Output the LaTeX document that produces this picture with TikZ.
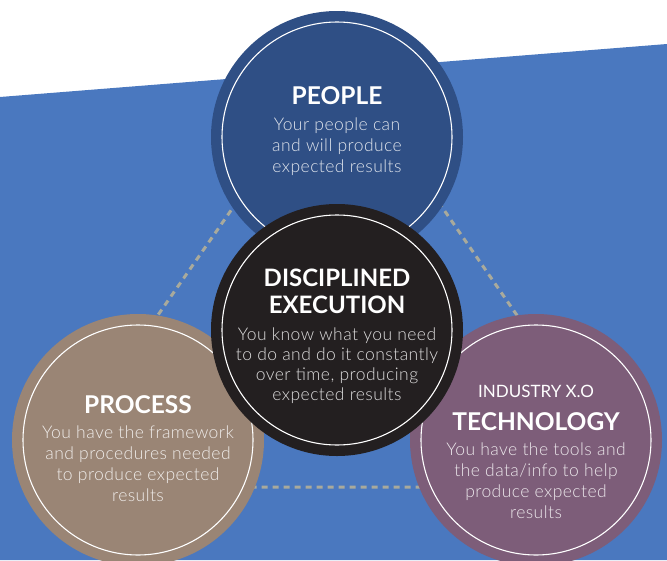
\documentclass[tikz,border=0pt]{standalone}
\usepackage{fontspec}
\setmainfont{Lato}
\newfontfamily\lightfont{Lato Light}[LetterSpace=2.5]

\definecolor{skyblue}{HTML}{4A78BF}
\definecolor{peopleblue}{HTML}{2F4F85}
\definecolor{execblack}{HTML}{231F20}
\definecolor{processbrown}{HTML}{9A8575}
\definecolor{techpurple}{HTML}{7D5D79}
\definecolor{linkgray}{HTML}{A9AA9C}

\tikzset{
  disc/.style={circle, minimum size=252pt, inner sep=0pt},
  ring/.style={draw=white, line width=1.1pt},
  heading/.style={text=white, anchor=base, font=\fontsize{24.5}{27}\selectfont\bfseries},
  blurb/.style={text=white, text opacity=0.85, align=center, anchor=base,
    font=\fontsize{17.5}{21}\selectfont\lightfont}
}

\begin{document}
\begin{tikzpicture}[x=1pt, y=-1pt]

    % Fix the picture size to the reference
    \useasboundingbox (0,0) rectangle (667,560);
    \clip (0,0) rectangle (667,560);

    % Radius of the inner white rings
    \def\r{115pt}

    % Slanted blue band behind everything
    \fill[skyblue] (0,97) -- (667,44) -- (667,560) -- (0,560) -- cycle;

    % Dashed triangle linking the three outer circles
    \coordinate (apex) at (338,57);
    \coordinate (leftfoot) at (38,487);
    \coordinate (rightfoot) at (636,487);
    \draw[linkgray, line width=3pt, dash pattern=on 6pt off 5pt] (apex) -- (leftfoot) -- (rightfoot) -- cycle;

    % The four circles, the centre one last so it sits on top
    \node[disc, fill=peopleblue] (people) at (337,137) {};
    \draw[ring] (people.center) circle (\r);

    \node[disc, fill=processbrown] (process) at (138,440) {};
    \draw[ring] (process.center) circle (\r);

    \node[disc, fill=techpurple] (tech) at (536,440) {};
    \draw[ring] (tech.center) circle (\r);

    \node[disc, fill=execblack] (exec) at (337,330) {};
    \draw[ring] (exec.center) circle (\r);

    % Texts of the top circle (a multi-line node sits on its last baseline)
    \node[heading] (peopletitle) at (337,104) {PEOPLE};
    \node[blurb] (peopletext) at (337,172) {Your people can\\and will produce\\expected results};

    % Texts of the centre circle
    \node[heading, align=center, font=\fontsize{24}{27}\selectfont\bfseries] (exectitle) at (337,313) {DISCIPLINED\\EXECUTION};
    \node[blurb, font=\fontsize{17.5}{20}\selectfont\lightfont] (exectext) at (337,400) {You know what you need\\to do and do it constantly\\over time, producing\\expected results};

    % Texts of the left circle
    \node[heading] (processtitle) at (138,413) {PROCESS};
    \node[blurb] (processtext) at (138,501) {You have the framework\\and procedures needed\\to produce expected\\results};

    % Texts of the right circle
    \node[heading, font=\fontsize{17}{20}\selectfont] (techtag) at (536,397) {INDUSTRY X.O};
    \node[heading] (techtitle) at (536,430) {TECHNOLOGY};
    \node[blurb] (techtext) at (536,518) {You have the tools and\\the data/info to help\\produce expected\\results};

\end{tikzpicture}
\end{document}
